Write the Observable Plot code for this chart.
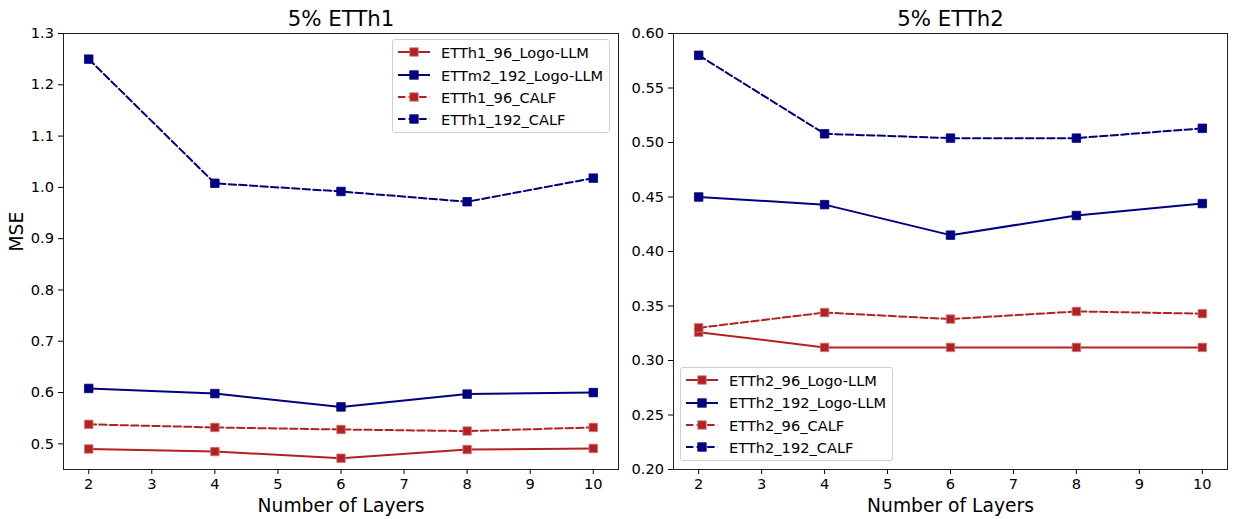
<!DOCTYPE html>
<html><head><meta charset="utf-8">
<script src="https://cdn.jsdelivr.net/npm/d3@7"></script>
<script src="https://cdn.jsdelivr.net/npm/@observablehq/plot@0.6"></script>
<style>
body{margin:0;background:#fff;font-family:"DejaVu Sans",sans-serif;}
#wrap{position:relative;width:1234px;height:519px;overflow:hidden;}
.panel{position:absolute;top:0;}
.legend{position:absolute;background:rgba(255,255,255,0.8);border:1px solid #d0d0d0;border-radius:3px;box-sizing:border-box;}
.entry{position:absolute;left:0;height:20px;display:flex;align-items:center;font-size:14.6px;white-space:nowrap;color:#000;}
.entry svg{position:absolute;left:5px;top:0;}
.entry span{position:absolute;left:48px;}
</style></head><body><div id="wrap"></div>
<script>
// ---------------- data ----------------
const layers = [2, 4, 6, 8, 10];
const xTicks = [2, 3, 4, 5, 6, 7, 8, 9, 10];

// Panel 1: 5% ETTh1
const h1Title = "5% ETTh1";
const h1Names = ["ETTh1_96_Logo-LLM", "ETTm2_192_Logo-LLM", "ETTh1_96_CALF", "ETTh1_192_CALF"];
const h1_96_logo  = [0.490, 0.485, 0.472, 0.489, 0.491];
const h1_192_logo = [0.608, 0.598, 0.572, 0.597, 0.600];
const h1_96_calf  = [0.538, 0.532, 0.528, 0.525, 0.532];
const h1_192_calf = [1.250, 1.008, 0.992, 0.972, 1.018];
const h1Ticks = [0.5, 0.6, 0.7, 0.8, 0.9, 1.0, 1.1, 1.2, 1.3];

// Panel 2: 5% ETTh2
const h2Title = "5% ETTh2";
const h2Names = ["ETTh2_96_Logo-LLM", "ETTh2_192_Logo-LLM", "ETTh2_96_CALF", "ETTh2_192_CALF"];
const h2_96_logo  = [0.326, 0.312, 0.312, 0.312, 0.312];
const h2_192_logo = [0.450, 0.443, 0.415, 0.433, 0.444];
const h2_96_calf  = [0.330, 0.344, 0.338, 0.345, 0.343];
const h2_192_calf = [0.580, 0.508, 0.504, 0.504, 0.513];
const h2Ticks = [0.20, 0.25, 0.30, 0.35, 0.40, 0.45, 0.50, 0.55, 0.60];

const seriesColors = ["#b22222", "#000080", "#b22222", "#000080"];
const seriesEdges  = ["#d47a7a", "#000080", "#d47a7a", "#000080"];
const seriesDashed = [false, false, true, true];
const xLabel = "Number of Layers";
const yLabel = "MSE";
// --------------------------------------

const DASH = "7.4,3.2";
const wrap = document.getElementById("wrap");

function makePanel(cfg) {
  const marks = [];
  cfg.values.forEach((vals, i) => {
    const rows = layers.map((x, j) => ({x, y: vals[j]}));
    marks.push(Plot.line(rows, {x: "x", y: "y", stroke: seriesColors[i], strokeWidth: 2,
      strokeDasharray: seriesDashed[i] ? DASH : null}));
    marks.push(Plot.dot(rows, {x: "x", y: "y", symbol: "square", r: 4.8, fill: seriesColors[i],
      stroke: seriesEdges[i], strokeWidth: 0.8}));
  });
  marks.push(Plot.frame({stroke: "#222", strokeWidth: 1}));
  marks.push(Plot.axisX({ticks: xTicks, tickFormat: d => String(d), tickSize: 5, tickPadding: 4, label: null}));
  marks.push(Plot.axisY({ticks: cfg.yTicks, tickFormat: d3.format(cfg.yFmt), tickSize: 5, tickPadding: 4.5, label: null}));
  marks.push(Plot.text([cfg.title], {text: d => d, frameAnchor: "top", lineAnchor: "middle", dy: -14.5, fontSize: 21.3}));
  marks.push(Plot.text([xLabel], {text: d => d, frameAnchor: "bottom", lineAnchor: "middle", dy: 36.5, fontSize: 18.7}));
  if (cfg.yLabel) marks.push(Plot.text([cfg.yLabel], {text: d => d, frameAnchor: "left", lineAnchor: "middle", dx: -46.5, rotate: -90, fontSize: 18.7}));
  const svg = Plot.plot({
    width: cfg.width, height: 519,
    marginLeft: cfg.ml, marginRight: cfg.mr, marginTop: 33, marginBottom: 50,
    x: {domain: [1.6, 10.4]},
    y: {domain: cfg.yDomain},
    style: {fontSize: "14.6px", fontFamily: "DejaVu Sans", color: "black", background: "transparent", overflow: "visible"},
    marks
  });
  const div = document.createElement("div");
  div.className = "panel";
  div.style.left = cfg.left + "px";
  div.appendChild(svg);
  wrap.appendChild(div);
}

function makeLegend(names, left, top, width, centers) {
  const box = document.createElement("div");
  box.className = "legend";
  box.style.left = left + "px"; box.style.top = top + "px";
  box.style.width = width + "px"; box.style.height = "94px";
  names.forEach((name, i) => {
    const e = document.createElement("div");
    e.className = "entry";
    e.style.top = (centers[i] - 10) + "px";
    const c = seriesColors[i];
    e.innerHTML = `<svg width="32" height="20"><line x1="0" y1="10" x2="32" y2="10" stroke="${c}" stroke-width="2" ${seriesDashed[i] ? `stroke-dasharray="${DASH}"` : ""}/><rect x="11.8" y="5.8" width="8.4" height="8.4" fill="${c}" stroke="${seriesEdges[i]}" stroke-width="0.8"/></svg><span>${name}</span>`;
    box.appendChild(e);
  });
  wrap.appendChild(box);
}

makePanel({title: h1Title, values: [h1_96_logo, h1_192_logo, h1_96_calf, h1_192_calf],
  yDomain: [0.45, 1.3], yTicks: h1Ticks, yFmt: ".1f", yLabel: yLabel,
  left: 0, width: 630, ml: 63, mr: 12});
makePanel({title: h2Title, values: [h2_96_logo, h2_192_logo, h2_96_calf, h2_192_calf],
  yDomain: [0.2, 0.6], yTicks: h2Ticks, yFmt: ".2f", yLabel: null,
  left: 630, width: 604, ml: 43, mr: 7});
makeLegend(h1Names, 392, 39, 218, [12, 35, 57, 79]);
makeLegend(h2Names, 680, 367, 213, [12, 34.5, 57, 79]);
</script></body></html>
